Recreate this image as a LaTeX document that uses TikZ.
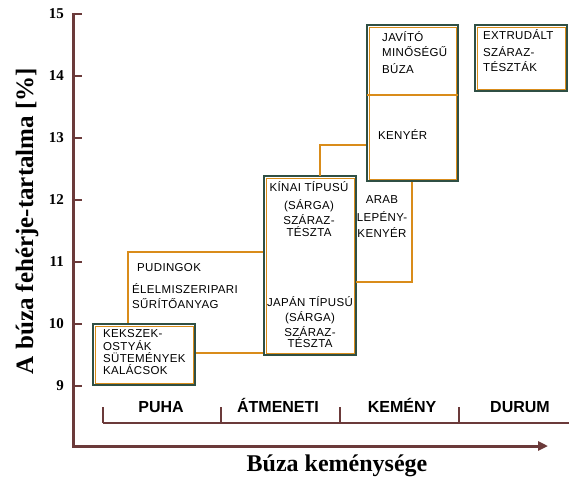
\documentclass[tikz,border=0pt]{standalone}
\usepackage{fontspec}
\setmainfont{Liberation Serif}
\setsansfont{Liberation Sans}
\newfontfamily\boxfont[LetterSpace=3]{Liberation Sans}
\usetikzlibrary{arrows.meta}
\definecolor{AxisBrown}{HTML}{6B3A3A}
\definecolor{BoxGreen}{HTML}{2F4F44}
\definecolor{LineOrange}{HTML}{D98C1A}

\begin{document}
\begin{tikzpicture}[x=1pt,y=1pt,yscale=-1,xscale=1,
		axisline/.style={draw=AxisBrown,line width=3pt},
		greenframe/.style={draw=BoxGreen,line width=1.6pt,fill=white},
		orangeframe/.style={draw=LineOrange,line width=0.9pt},
		orangeline/.style={draw=LineOrange,line width=2.3pt},
		boxtext/.style={inner sep=0pt,text height=8pt,text depth=0pt,font=\boxfont\fontsize{11.5}{13}\selectfont},
		ticklabel/.style={anchor=east,inner sep=0pt,font=\bfseries\fontsize{15}{15}\selectfont},
		category/.style={inner sep=0pt,text height=11.5pt,text depth=0pt,font=\sffamily\bfseries\fontsize{16}{16}\selectfont}]
		\useasboundingbox (0,0) rectangle (569,478);

		% Axes with the arrow pointing right
		\coordinate (ytop) at (73,13);
		\coordinate (origo) at (73,446);
		\coordinate (xend) at (548,446);
		\draw[axisline,-{Triangle[length=10pt,width=9pt]}] (ytop) -- (origo) -- (xend);

		% Ticks and values of the protein content
		\foreach \v in {9,...,15}
		{
			\draw[AxisBrown,line width=2.6pt] (73,{14+(15-\v)*62}) -- (82,{14+(15-\v)*62});
			\node[ticklabel] (tick\v) at (64,{14+(15-\v)*62}) {\v};
		}

		% Bracket of the hardness classes
		\draw[AxisBrown,line width=2.4pt] (103,423) -- (569,423);
		\foreach \x in {103,221,340,459}
			\draw[AxisBrown,line width=1.6pt] (\x,407) -- (\x,423);
		\node[category] (puha) at (161,407) {PUHA};
		\node[category] (atmeneti) at (278,407) {ÁTMENETI};
		\node[category] (kemeny) at (402,407) {KEMÉNY};
		\node[category] (durum) at (520,407) {DURUM};

		% Axis titles
		\node[rotate=90,anchor=base,inner sep=0pt,font=\bfseries\fontsize{25}{25}\selectfont] (ylabel) at (33,221) {A búza fehérje-tartalma [\%]};
		\node[anchor=base,inner sep=0pt,font=\bfseries\fontsize{24}{24}\selectfont] (xlabel) at (337,471) {Búza keménysége};

		% Orange region of the puddings (behind the boxes)
		\draw[orangeline] (128,324) -- (128,252) -- (264,252);
		\draw[orangeline] (195,353) -- (264,353);

		% Biscuit box
		\draw[greenframe] (93,324) rectangle (195,385);
		\draw[orangeframe] (95,326) rectangle (193,383);

		% Asian noodle box
		\draw[greenframe] (264,176) rectangle (356,355);
		\draw[orangeframe] (266,178) rectangle (354,353);

		% Orange step up to the bread box and the flat bread region
		\draw[orangeline] (320,176) -- (320,145) -- (367,145);
		\draw[orangeline] (412,181) -- (412,282) -- (356,282);

		% Bread and improver wheat box
		\draw[greenframe] (367,25) rectangle (458,181);
		\draw[orangeframe] (369,27) rectangle (456,179);
		\draw[orangeline] (367,95) -- (458,95);

		% Extruded pasta box
		\draw[greenframe] (475,25) rectangle (567,91);
		\draw[orangeframe] (477,27) rectangle (565,89);

		% Texts of the boxes
		\foreach \szoveg/\y [count=\i] in {KEKSZEK-/333,OSTYÁK/346,SÜTEMÉNYEK/358,KALÁCSOK/370}
			\node[boxtext,anchor=west] (keksz\i) at (103,\y) {\szoveg};
		\node[boxtext,anchor=west] (puding1) at (137,267) {PUDINGOK};
		\node[boxtext,anchor=west] (puding2) at (132,289) {ÉLELMISZERIPARI};
		\node[boxtext,anchor=west] (puding3) at (132,304) {SŰRÍTŐANYAG};
		\foreach \szoveg/\y [count=\i] in {KÍNAI TÍPUSÚ/188,(SÁRGA)/205,SZÁRAZ-/220,TÉSZTA/232}
			\node[boxtext] (kinai\i) at (309,\y) {\szoveg};
		\foreach \szoveg/\y [count=\i] in {JAPÁN TÍPUSÚ/302,(SÁRGA)/317,SZÁRAZ-/332,TÉSZTA/343}
			\node[boxtext] (japan\i) at (310,\y) {\szoveg};
		\foreach \szoveg/\y [count=\i] in {ARAB/200,LEPÉNY-/217,KENYÉR/233}
			\node[boxtext] (arab\i) at (382,\y) {\szoveg};
		\foreach \szoveg/\y [count=\i] in {JAVÍTÓ/38,MINŐSÉGŰ/53,BÚZA/70}
			\node[boxtext,anchor=west] (javito\i) at (382,\y) {\szoveg};
		\node[boxtext,anchor=west] (kenyer) at (378,136) {KENYÉR};
		\foreach \szoveg/\y [count=\i] in {EXTRUDÁLT/36,SZÁRAZ-/53,TÉSZTÁK/68}
			\node[boxtext,anchor=west] (extrud\i) at (483,\y) {\szoveg};
	\end{tikzpicture}
\end{document}
